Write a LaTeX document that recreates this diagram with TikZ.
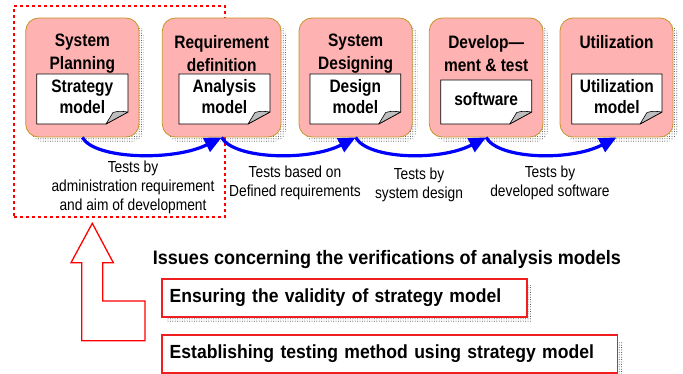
\documentclass[tikz,border=0pt]{standalone}
\usepackage{fontspec}
\setmainfont{Liberation Sans}
\newfontfamily\condsans[FakeStretch=0.86]{Liberation Sans}
\newfontfamily\issuesans[FakeStretch=0.925]{Liberation Sans}
\usetikzlibrary{arrows.meta,patterns}

% fine halftone used for the drop shadows
\pgfdeclarepatternformonly{halftone}{\pgfqpoint{-1pt}{-1pt}}{\pgfqpoint{1pt}{1pt}}{\pgfqpoint{2.4pt}{2.4pt}}%
  {\pgfpathcircle{\pgfpointorigin}{0.5pt}\pgfusepath{fill}}

\definecolor{stagepink}{RGB}{255,178,178}
\definecolor{stageedge}{RGB}{196,150,40}
\definecolor{testblue}{RGB}{0,0,255}
\definecolor{issuered}{RGB}{240,30,30}
\definecolor{foldgray}{RGB}{190,190,190}

\tikzset{
  dotshadow/.style 2 args={preaction={draw=none, pattern=halftone, pattern color=black!75,
      transform canvas={xshift=#1, yshift=#2}}},
  stagebox/.style={rounded corners=13pt, fill=stagepink, draw=stageedge, line width=0.8pt,
      minimum height=119pt, dotshadow={5pt}{-5pt}},
  stagetitle/.style={font=\condsans\bfseries\fontsize{18}{23}\selectfont, align=center, inner sep=0pt},
  doctext/.style={font=\condsans\bfseries\fontsize{18}{21}\selectfont, align=center, inner sep=0pt},
  docline/.style={draw=black, fill=white, line width=0.8pt},
  foldline/.style={draw=black, fill=foldgray, line width=0.6pt, line join=round},
  testarrow/.style={draw=testblue, line width=3.2pt, -{Triangle[length=17pt,width=15pt]}},
  testlabel/.style={font=\condsans\fontsize{16}{19}\selectfont, align=center, inner sep=0pt},
  focusframe/.style={draw=red, line width=2.6pt, dash pattern=on 3pt off 3pt},
  bigarrow/.style={draw=red, fill=white, line width=1.3pt, line join=miter},
  issuetitle/.style={font=\issuesans\bfseries\fontsize{19.5}{23}\selectfont, inner sep=0pt},
  issuebox/.style={draw=issuered, fill=white, line width=1.6pt, inner xsep=8pt, inner ysep=0pt,
      align=left, font=\issuesans\bfseries\fontsize{19}{23}\selectfont, dotshadow={5pt}{-6pt}},
}

% document sheet with a turned-up corner: name, x1, y1, x2, y2, text
\newcommand\docsheet[6]{%
  \draw[docline] (#2,#3) -- (#4,#3) -- (#4,#5-12) -- (#4-22,#5) -- (#2,#5) -- cycle;
  \draw[foldline] (#4-22,#5) -- (#4-15,#5-11.5) .. controls (#4-9,#5-13) .. (#4,#5-12) -- cycle;
  \node[doctext] (#1) at ({(#2+#4)/2},{(#3+#5)/2-2.5}) {#6};
}

\begin{document}
\begin{tikzpicture}[x=1pt,y=-1pt]
\useasboundingbox (0,0) rectangle (683,374);

% area of interest around the first phase
\node[focusframe, minimum width=211pt, minimum height=211pt] (focus) at (119.5,111.5) {};

% phases
\node[stagebox, minimum width=113.3pt] (b1) at (82.35,77.5) {};
\node[stagebox, minimum width=118.7pt] (b2) at (221.65,77.5) {};
\node[stagebox, minimum width=113.3pt] (b3) at (355.65,77.5) {};
\node[stagebox, minimum width=113.7pt] (b4) at (486.15,77.5) {};
\node[stagebox, minimum width=113pt]   (b5) at (616.5,77.5) {};

\node[stagetitle] (t1) at (82.35,53.5)  {System\\Planning};
\node[stagetitle] (t2) at (221.65,53.5) {Requirement\\definition};
\node[stagetitle] (t3) at (355.65,53.5) {System\\Designing};
\node[stagetitle] (t4) at (486.15,53.5) {Develop—\\ment \& test};
\node[stagetitle] (t5) at (616.5,42)    {Utilization};

\docsheet{d1}{36.7}{74}{128}{124}{Strategy\\model}
\docsheet{d2}{179}{74}{270}{124}{Analysis\\model}
\docsheet{d3}{310}{74}{400.7}{124}{Design\\model}
\docsheet{d4}{440.7}{80}{531.7}{124}{software}
\docsheet{d5}{571.7}{74}{662}{124}{Utilization\\model}

% tests between consecutive phases
\draw[testarrow] (b1.south) .. controls +(12,22) and +(-48,24) .. (b2.south);
\draw[testarrow] (b2.south) .. controls +(12,22) and +(-46,24) .. (b3.south);
\draw[testarrow] (b3.south) .. controls +(12,22) and +(-46,24) .. (b4.south);
\draw[testarrow] (b4.south) .. controls +(12,22) and +(-46,24) .. (b5.south);

\node[testlabel] (l1) at (133,187)   {Tests by\\administration requirement\\and aim of development};
\node[testlabel] (l2) at (295,182.5) {Tests based on\\Defined requirements};
\node[testlabel] (l3) at (419,185)   {Tests by\\system design};
\node[testlabel] (l4) at (550,183)   {Tests by\\developed software};

% hollow arrow pointing back up to the framed phase
\draw[bigarrow] (92.3,223.3) -- (113.3,262.7) -- (102.7,262.7) -- (102.7,301) -- (145,301)
  -- (145,340.7) -- (81.7,340.7) -- (81.7,262.7) -- (71,262.7) -- cycle;

\node[issuetitle, anchor=base west] (issues) at (152.7,265)
  {Issues concerning the verifications of analysis models};
\node[issuebox, text width=349pt, minimum height=37.4pt] (i1) at (344.2,298)
  {Ensuring the validity of strategy model};
\node[issuebox, text width=439.6pt, minimum height=37.7pt] (i2) at (389.5,353.85)
  {Establishing testing method using strategy model};
\end{tikzpicture}
\end{document}
